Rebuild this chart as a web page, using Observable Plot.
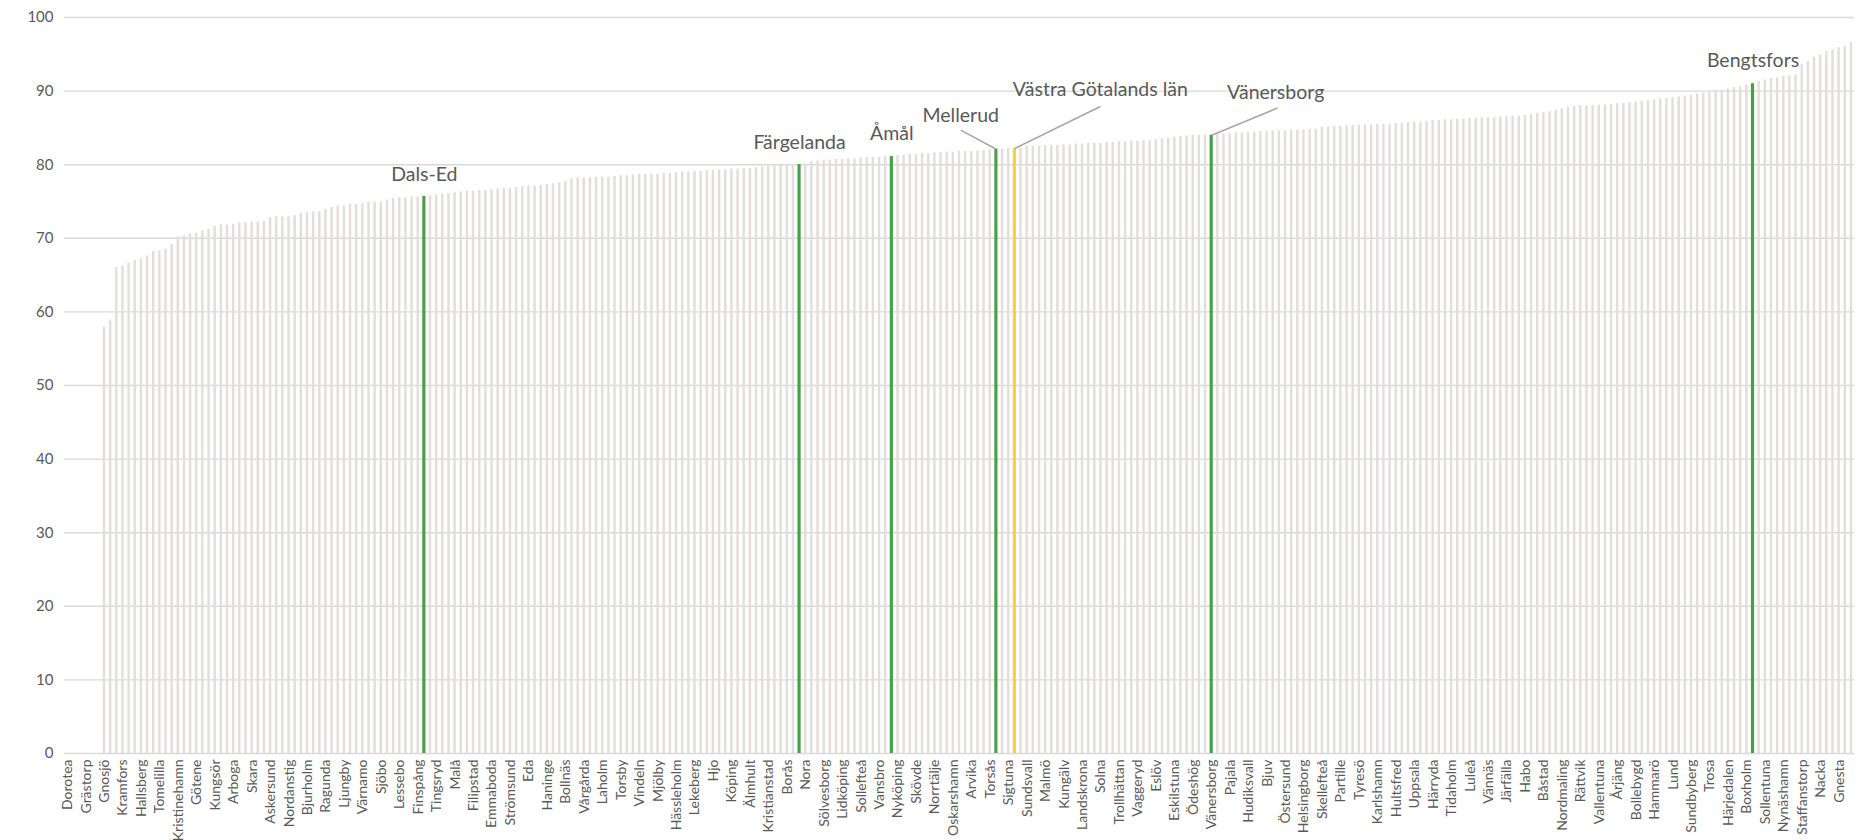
<!DOCTYPE html>
<html>
<head>
<meta charset="utf-8">
<script src="https://cdn.jsdelivr.net/npm/d3@7"></script>
<script src="https://cdn.jsdelivr.net/npm/@observablehq/plot@0.6"></script>
<style>
  html, body { margin: 0; padding: 0; background: #fff; }
  #chart { width: 1859px; height: 840px; }
</style>
</head>
<body>
<div id="chart"></div>
<script>
// Axis labels (every third municipality is labelled)
const tickLabels = ["Dorotea","Grästorp","Gnosjö","Kramfors","Hallsberg","Tomelilla","Kristinehamn","Götene","Kungsör","Arboga","Skara","Askersund","Nordanstig","Bjurholm","Ragunda","Ljungby","Värnamo","Sjöbo","Lessebo","Finspång","Tingsryd","Malå","Filipstad","Emmaboda","Strömsund","Eda","Haninge","Bollnäs","Vårgårda","Laholm","Torsby","Vindeln","Mjölby","Hässleholm","Lekeberg","Hjo","Köping","Älmhult","Kristianstad","Borås","Nora","Sölvesborg","Lidköping","Sollefteå","Vansbro","Nyköping","Skövde","Norrtälje","Oskarshamn","Arvika","Torsås","Sigtuna","Sundsvall","Malmö","Kungälv","Landskrona","Solna","Trollhättan","Vaggeryd","Eslöv","Eskilstuna","Ödeshög","Vänersborg","Pajala","Hudiksvall","Bjuv","Östersund","Helsingborg","Skellefteå","Partille","Tyresö","Karlshamn","Hultsfred","Uppsala","Härryda","Tidaholm","Luleå","Vännäs","Järfälla","Habo","Båstad","Nordmaling","Rättvik","Vallentuna","Årjäng","Bollebygd","Hammarö","Lund","Sundbyberg","Trosa","Härjedalen","Boxholm","Sollentuna","Nynäshamn","Staffanstorp","Nacka","Gnesta"];
const labelEvery = 3;

// Values (sorted ascending), one per category; first six have no value
const values = [
  null,null,null,null,null,null,
  57.9,58.9,66.0,66.2,66.6,67.0,67.2,67.6,68.2,68.3,
  68.5,69.2,70.2,70.3,70.6,70.7,71.0,71.2,71.6,71.8,
  71.8,71.9,72.1,72.1,72.2,72.2,72.3,72.8,72.9,72.9,
  72.9,73.1,73.4,73.5,73.6,73.6,73.9,74.2,74.4,74.4,
  74.6,74.6,74.7,74.9,74.9,74.9,75.2,75.4,75.5,75.5,
  75.6,75.6,75.7,75.8,75.9,76.0,76.1,76.2,76.3,76.4,
  76.4,76.5,76.5,76.6,76.7,76.8,76.8,76.9,77.0,77.1,
  77.1,77.2,77.3,77.4,77.5,77.7,78.1,78.2,78.2,78.2,
  78.3,78.3,78.3,78.4,78.5,78.5,78.6,78.7,78.7,78.7,
  78.7,78.8,78.8,78.9,79.0,79.0,79.1,79.1,79.2,79.2,
  79.3,79.3,79.4,79.4,79.5,79.5,79.6,79.7,79.8,79.8,
  79.9,79.9,80.0,80.0,80.1,80.4,80.5,80.6,80.6,80.7,
  80.7,80.8,80.8,80.9,81.0,81.0,81.0,81.1,81.1,81.2,
  81.3,81.4,81.4,81.5,81.5,81.6,81.6,81.7,81.7,81.8,
  81.8,81.8,81.9,81.9,82.0,82.1,82.1,82.2,82.2,82.3,
  82.5,82.5,82.5,82.6,82.6,82.6,82.7,82.7,82.8,82.8,
  82.9,82.9,82.9,83.0,83.0,83.1,83.1,83.2,83.2,83.3,
  83.3,83.4,83.5,83.6,83.7,83.8,83.9,84.0,84.0,84.0,
  84.0,84.1,84.2,84.2,84.3,84.3,84.4,84.4,84.5,84.5,
  84.6,84.6,84.6,84.7,84.7,84.7,84.8,84.8,85.1,85.1,
  85.2,85.2,85.3,85.3,85.4,85.4,85.4,85.5,85.5,85.5,
  85.6,85.6,85.7,85.8,85.8,85.9,86.0,86.0,86.1,86.1,
  86.2,86.2,86.3,86.3,86.4,86.4,86.4,86.5,86.5,86.6,
  86.6,86.7,86.8,87.0,87.1,87.2,87.4,87.6,87.8,87.9,
  88.0,88.0,88.0,88.1,88.1,88.2,88.3,88.3,88.4,88.5,
  88.6,88.7,88.8,88.9,89.0,89.1,89.2,89.3,89.4,89.6,
  89.7,89.8,90.0,90.1,90.3,90.5,90.6,90.8,91.0,91.3,
  91.5,91.7,91.8,92.0,92.1,92.2,93.6,94.0,94.6,94.9,
  95.4,95.6,95.9,96.1,96.6
];

// Highlighted categories
const highlightNames = ["Dals-Ed","Färgelanda","Åmål","Mellerud","Västra Götalands län","Vänersborg","Bengtsfors"];
const highlightIndex = [58, 119, 134, 151, 154, 186, 274];
const highlightKind  = ["kommun","kommun","kommun","kommun","län","kommun","kommun"];
// Annotation label anchors (category position, value at text baseline)
const labelPos   = [58, 119, 134, 145.2, 167.9, 196.4, 274];
const labelValue = [77.8, 82.2, 83.3, 85.8, 89.3, 88.9, 93.3];
// Leader line ends (null = no leader)
const leaderPos   = [null, null, null, 145.2, 167.9, 196.7, null];
const leaderValue = [null, null, null, 84.7, 87.9, 87.7, null];

const yTicks = d3.range(0, 101, 10);
const xTicks = tickLabels.map((_, k) => k * labelEvery);

const bars = values.map((v, i) => ({i, v})).filter(d => d.v != null);
const hlSet = new Map(highlightIndex.map((idx, k) => [idx, highlightKind[k]]));
const grayBars = bars.filter(d => !hlSet.has(d.i));
const greenBars = bars.filter(d => hlSet.get(d.i) === "kommun");
const yellowBars = bars.filter(d => hlSet.get(d.i) === "län");

const annos = highlightNames.map((name, k) => ({
  name, i: highlightIndex[k], v: values[highlightIndex[k]],
  lx: labelPos[k], ly: labelValue[k], ex: leaderPos[k], ey: leaderValue[k]
}));
const leaders = annos.filter(a => a.ex != null);

const GRAY = "#e3dedc", GREEN = "#47a044", YELLOW = "#f3d23c";
const barOpts = {x1: d => d.i - 0.5, x2: d => d.i + 0.5, y1: 0, y2: "v", insetLeft: 1.85, insetRight: 1.85};
const hlOpts = {...barOpts, insetLeft: 1.5, insetRight: 1.5};

const chart = Plot.plot({
  width: 1859,
  height: 840,
  marginLeft: 64,
  marginRight: 5,
  marginTop: 17,
  marginBottom: 87,
  style: {fontFamily: "Lato, 'Open Sans', sans-serif", background: "#fff"},
  x: {domain: [-0.5, values.length - 0.5]},
  y: {domain: [0, 100]},
  marks: [
    Plot.gridY({ticks: yTicks, stroke: "#d9d9d9", strokeOpacity: 1, strokeWidth: 1.4}),
    Plot.rect(grayBars, {...barOpts, fill: GRAY}),
    Plot.rect(greenBars, {...hlOpts, fill: GREEN}),
    Plot.rect(yellowBars, {...hlOpts, fill: YELLOW}),
    Plot.link(leaders, {x1: "i", y1: "v", x2: "ex", y2: "ey", stroke: "#a6a6a6", strokeWidth: 1.6}),
    Plot.text(annos, {x: "lx", y: "ly", text: "name", lineAnchor: "bottom", textAnchor: "middle", fontSize: 19.5, fill: "#595959"}),
    Plot.axisY({ticks: yTicks, tickSize: 0, tickPadding: 11, fontSize: 15, color: "#595959", label: null}),
    Plot.axisX({ticks: xTicks, tickFormat: d => tickLabels[d / labelEvery], tickRotate: -90, tickSize: 0, tickPadding: 6, fontSize: 14, color: "#595959", label: null})
  ]
});
document.getElementById("chart").appendChild(chart);
</script>
</body>
</html>
